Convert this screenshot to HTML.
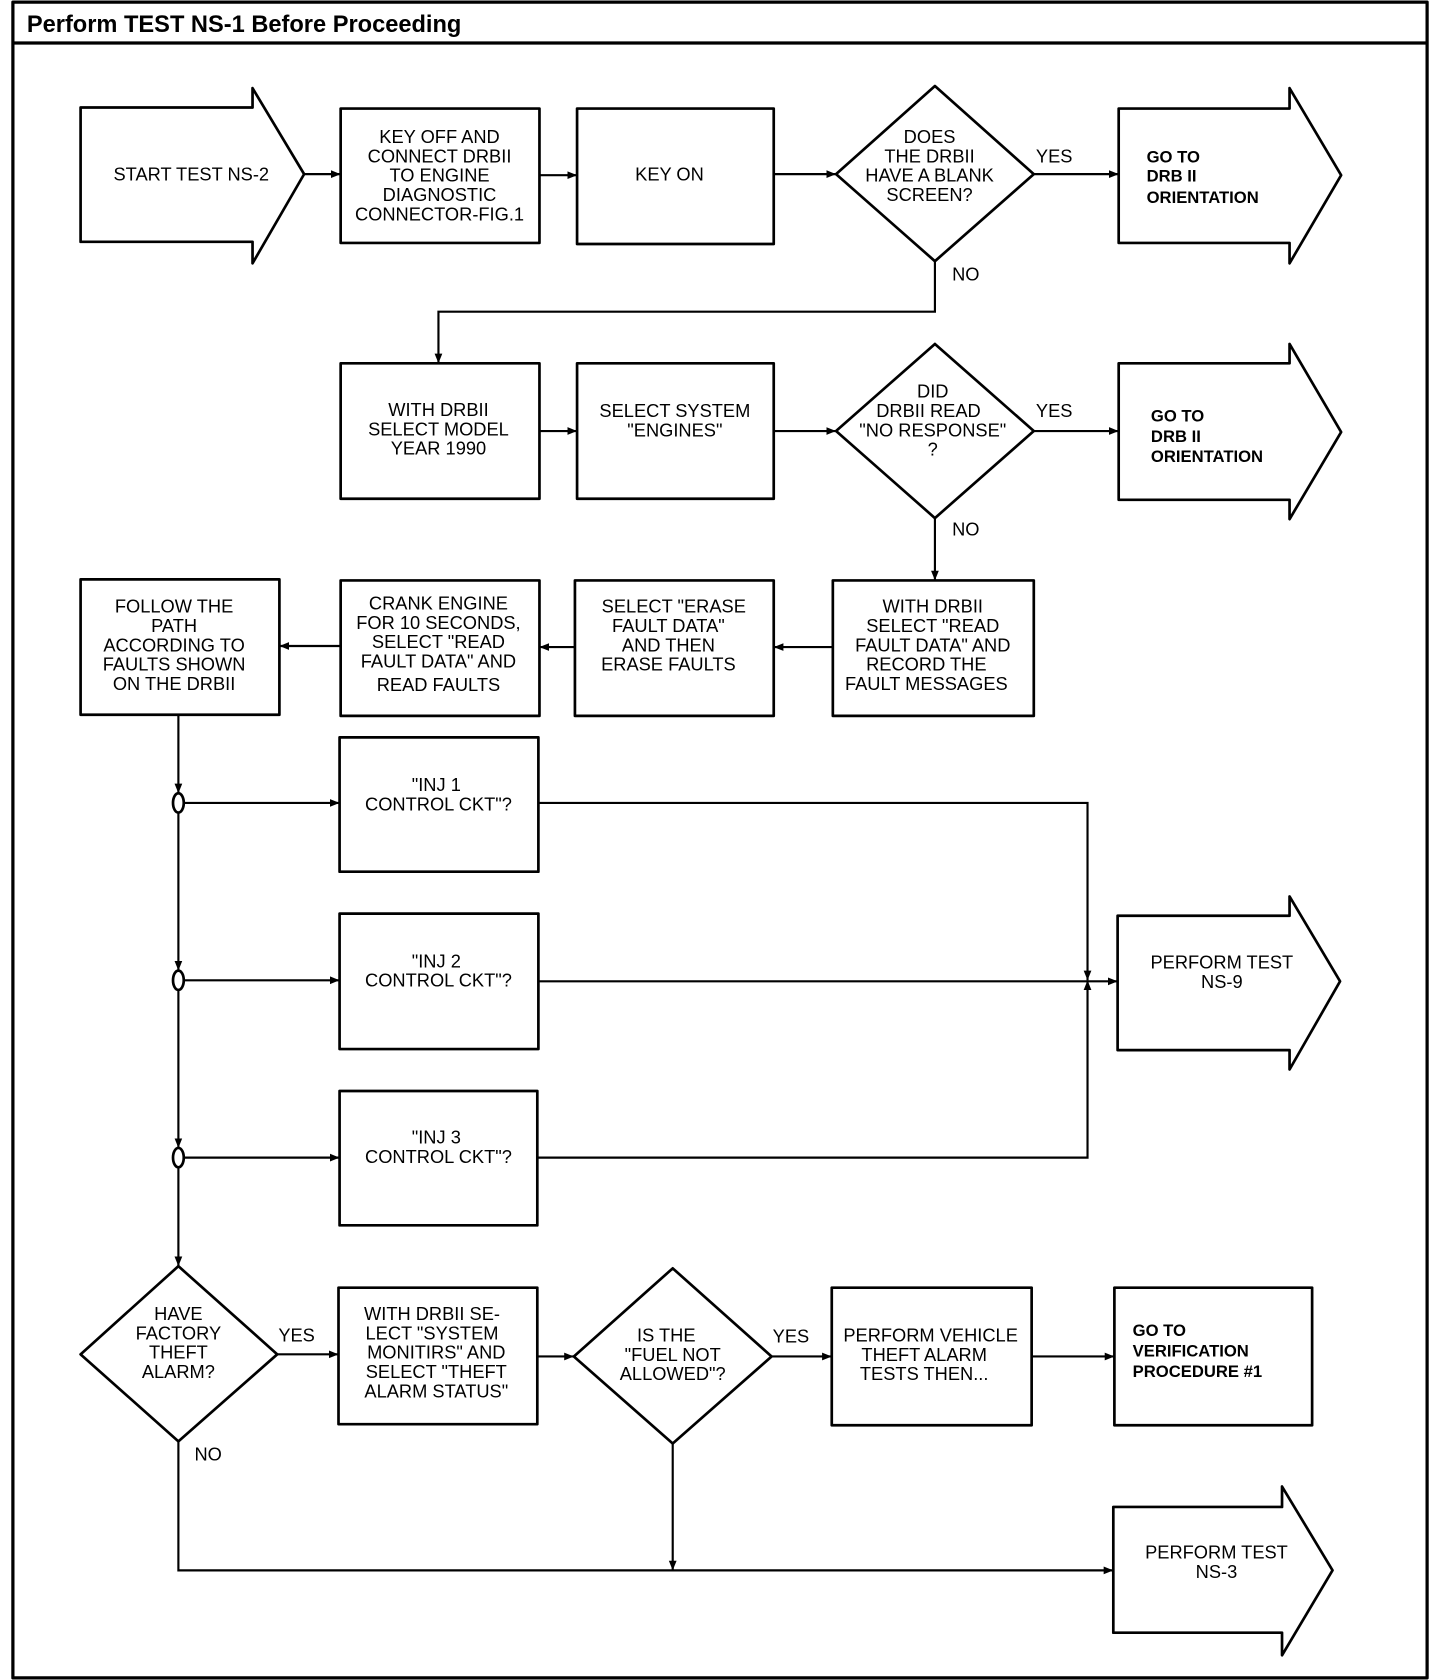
<!DOCTYPE html>
<html><head><meta charset="utf-8"><style>
html,body{margin:0;padding:0;background:#fff;}
svg{display:block;}
.t{font-family:"Liberation Sans",sans-serif;font-size:17px;fill:#000;text-anchor:middle;}
.b{font-family:"Liberation Sans",sans-serif;font-size:15.5px;font-weight:bold;fill:#000;}
.l{font-family:"Liberation Sans",sans-serif;font-size:17px;fill:#000;}
</style></head><body>
<svg width="1440" height="1680" viewBox="0 0 1340 1563" preserveAspectRatio="none" xmlns="http://www.w3.org/2000/svg">
<defs><marker id="a" viewBox="0 0 10 10" refX="10" refY="5" markerWidth="9" markerHeight="9" markerUnits="userSpaceOnUse" orient="auto"><path d="M0,1 L10,5 L0,9 Z" fill="#000"/></marker></defs>
<g fill="none" stroke="#000" stroke-width="2.5" stroke-linejoin="round">
<rect x="12" y="2" width="1316" height="1559" stroke-width="3"/>
<line x1="12" y1="40" x2="1328" y2="40" stroke-width="3"/>
<!-- arrows shapes -->
<path d="M75,100 H235 V82 L283,162 L235,245 V225 H75 Z"/>
<path d="M1041,101 H1200 V82 L1248,163 L1200,245 V226 H1041 Z"/>
<path d="M1041,338 H1200 V320 L1248,402 L1200,483 V465 H1041 Z"/>
<path d="M1040,852 H1200 V834 L1247,913 L1200,995 V977 H1040 Z"/>
<path d="M1036,1402 H1193 V1383 L1240,1461 L1193,1540 V1519 H1036 Z"/>
<!-- boxes -->
<rect x="317" y="101" width="185" height="125"/>
<rect x="537" y="101" width="183" height="126"/>
<rect x="317" y="338" width="185" height="126"/>
<rect x="537" y="338" width="183" height="126"/>
<rect x="775" y="540" width="187" height="126"/>
<rect x="535" y="540" width="185" height="126"/>
<rect x="317" y="540" width="185" height="126"/>
<rect x="75" y="539" width="185" height="126"/>
<rect x="316" y="686" width="185" height="125"/>
<rect x="316" y="850" width="185" height="126"/>
<rect x="316" y="1015" width="184" height="125"/>
<rect x="315" y="1198" width="185" height="127"/>
<rect x="774" y="1198" width="186" height="128"/>
<rect x="1037" y="1198" width="184" height="128"/>
<!-- diamonds -->
<path d="M870,80 L962,162 L870,243 L778,162 Z"/>
<path d="M870,320 L962,401 L870,482 L778,401 Z"/>
<path d="M166,1178 L258,1260 L166,1341 L75,1260 Z"/>
<path d="M626,1180 L718,1262 L626,1343 L534,1262 Z"/>
<!-- junction ellipses -->
<ellipse cx="166" cy="747" rx="5" ry="9"/>
<ellipse cx="166" cy="912" rx="5" ry="9"/>
<ellipse cx="166" cy="1077" rx="5" ry="9"/>
</g>
<g fill="none" stroke="#000" stroke-width="2">
<line x1="283" y1="162" x2="317" y2="162" marker-end="url(#a)"/>
<line x1="502" y1="163" x2="537" y2="163" marker-end="url(#a)"/>
<line x1="720" y1="162" x2="778" y2="162" marker-end="url(#a)"/>
<line x1="962" y1="162" x2="1041" y2="162" marker-end="url(#a)"/>
<polyline points="870,243 870,290 408,290 408,338" marker-end="url(#a)"/>
<line x1="502" y1="401" x2="537" y2="401" marker-end="url(#a)"/>
<line x1="720" y1="401" x2="778" y2="401" marker-end="url(#a)"/>
<line x1="962" y1="401" x2="1041" y2="401" marker-end="url(#a)"/>
<line x1="870" y1="482" x2="870" y2="540" marker-end="url(#a)"/>
<line x1="775" y1="602" x2="720" y2="602" marker-end="url(#a)"/>
<line x1="535" y1="602" x2="502" y2="602" marker-end="url(#a)"/>
<line x1="317" y1="601" x2="260" y2="601" marker-end="url(#a)"/>
<line x1="166" y1="665" x2="166" y2="738" marker-end="url(#a)"/>
<line x1="166" y1="756" x2="166" y2="903" marker-end="url(#a)"/>
<line x1="166" y1="921" x2="166" y2="1068" marker-end="url(#a)"/>
<line x1="166" y1="1086" x2="166" y2="1178" marker-end="url(#a)"/>
<line x1="171" y1="747" x2="316" y2="747" marker-end="url(#a)"/>
<line x1="171" y1="912" x2="316" y2="912" marker-end="url(#a)"/>
<line x1="171" y1="1077" x2="316" y2="1077" marker-end="url(#a)"/>
<polyline points="501,747 1012,747 1012,912" marker-end="url(#a)"/>
<polyline points="500,1077 1012,1077 1012,912" marker-end="url(#a)"/>
<line x1="501" y1="913" x2="1040" y2="913" marker-end="url(#a)"/>
<line x1="258" y1="1260" x2="315" y2="1260" marker-end="url(#a)"/>
<line x1="500" y1="1262" x2="534" y2="1262" marker-end="url(#a)"/>
<line x1="718" y1="1262" x2="774" y2="1262" marker-end="url(#a)"/>
<line x1="960" y1="1262" x2="1037" y2="1262" marker-end="url(#a)"/>
<polyline points="166,1341 166,1461 1036,1461" marker-end="url(#a)"/>
<line x1="626" y1="1343" x2="626" y2="1461" marker-end="url(#a)"/>
</g>
<text x="25" y="30" font-family="Liberation Sans,sans-serif" font-size="22" font-weight="bold">Perform TEST NS-1 Before Proceeding</text>
<g class="t">
<text x="178" y="168">START TEST NS-2</text>
<text x="409" y="133">KEY OFF AND</text><text x="409" y="151">CONNECT DRBII</text><text x="409" y="169">TO ENGINE</text><text x="409" y="187">DIAGNOSTIC</text><text x="409" y="205">CONNECTOR-FIG.1</text>
<text x="623" y="168">KEY ON</text>
<text x="865" y="133">DOES</text><text x="865" y="151">THE DRBII</text><text x="865" y="169">HAVE A BLANK</text><text x="865" y="187">SCREEN?</text>
<text x="408" y="387">WITH DRBII</text><text x="408" y="405">SELECT MODEL</text><text x="408" y="423">YEAR 1990</text>
<text x="628" y="388">SELECT SYSTEM</text><text x="628" y="406">"ENGINES"</text>
<text x="868" y="370">DID</text><text x="864" y="388">DRBII READ</text><text x="868" y="406">"NO RESPONSE"</text><text x="868" y="424">?</text>
<text x="868" y="570">WITH DRBII</text><text x="868" y="588">SELECT "READ</text><text x="868" y="606">FAULT DATA" AND</text><text x="862" y="624">RECORD THE</text><text x="862" y="642">FAULT MESSAGES</text>
<text x="627" y="570">SELECT "ERASE</text><text x="622" y="588">FAULT DATA"</text><text x="622" y="606">AND THEN</text><text x="622" y="624">ERASE FAULTS</text>
<text x="408" y="567">CRANK ENGINE</text><text x="408" y="585">FOR 10 SECONDS,</text><text x="408" y="603">SELECT "READ</text><text x="408" y="621">FAULT DATA" AND</text><text x="408" y="643">READ FAULTS</text>
<text x="162" y="570">FOLLOW THE</text><text x="162" y="588">PATH</text><text x="162" y="606">ACCORDING TO</text><text x="162" y="624">FAULTS SHOWN</text><text x="162" y="642">ON THE DRBII</text>
<text x="406" y="736">"INJ 1</text><text x="408" y="754">CONTROL CKT"?</text>
<text x="406" y="900">"INJ 2</text><text x="408" y="918">CONTROL CKT"?</text>
<text x="406" y="1064">"INJ 3</text><text x="408" y="1082">CONTROL CKT"?</text>
<text x="1137" y="901">PERFORM TEST</text><text x="1137" y="919">NS-9</text>
<text x="166" y="1228">HAVE</text><text x="166" y="1246">FACTORY</text><text x="166" y="1264">THEFT</text><text x="166" y="1282">ALARM?</text>
<text x="402" y="1228">WITH DRBII SE-</text><text x="402" y="1246">LECT "SYSTEM</text><text x="406" y="1264">MONITIRS" AND</text><text x="406" y="1282">SELECT "THEFT</text><text x="406" y="1300">ALARM STATUS"</text>
<text x="620" y="1248">IS THE</text><text x="626" y="1266">"FUEL NOT</text><text x="626" y="1284">ALLOWED"?</text>
<text x="866" y="1248">PERFORM VEHICLE</text><text x="860" y="1266">THEFT ALARM</text><text x="860" y="1284">TESTS THEN...</text>
<text x="1132" y="1450">PERFORM TEST</text><text x="1132" y="1468">NS-3</text>
</g>
<g class="l">
<text x="964" y="151">YES</text><text x="886" y="261">NO</text>
<text x="964" y="388">YES</text><text x="886" y="498">NO</text>
<text x="259" y="1248">YES</text><text x="181" y="1359">NO</text>
<text x="719" y="1249">YES</text>
</g>
<g class="b">
<text x="1067" y="151">GO TO</text><text x="1067" y="169">DRB II</text><text x="1067" y="189">ORIENTATION</text>
<text x="1071" y="392">GO TO</text><text x="1071" y="411">DRB II</text><text x="1071" y="430">ORIENTATION</text>
<text x="1054" y="1243">GO TO</text><text x="1054" y="1262">VERIFICATION</text><text x="1054" y="1281">PROCEDURE #1</text>
</g>
</svg>
</body></html>
